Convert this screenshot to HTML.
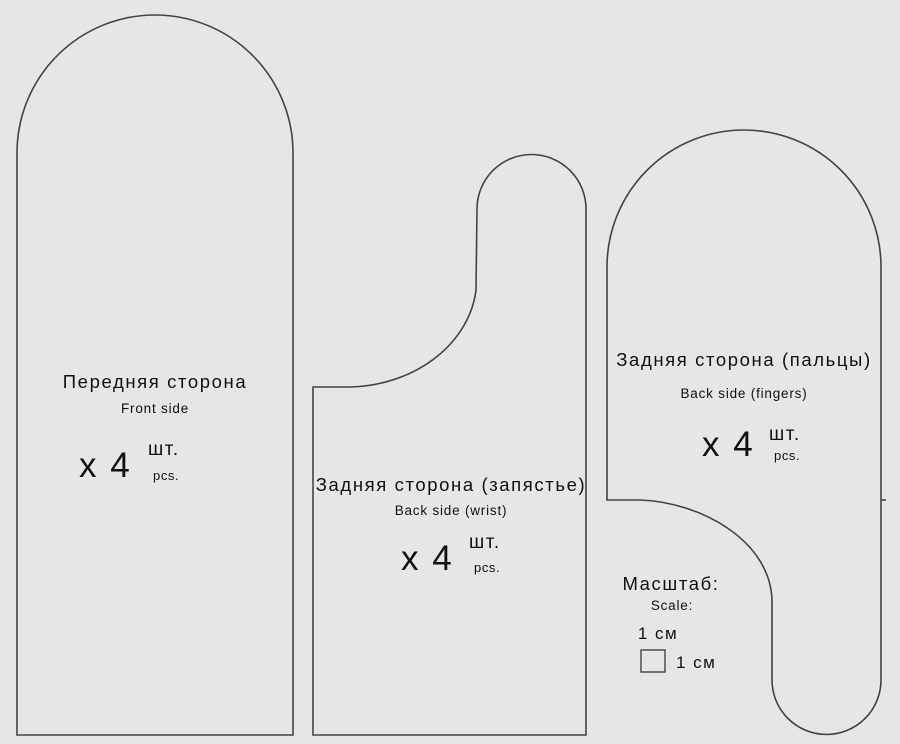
<!DOCTYPE html>
<html><head><meta charset="utf-8"><style>
html,body{margin:0;padding:0;background:#e6e6e6;}
svg{display:block;}
text{font-family:"Liberation Sans","DejaVu Sans",sans-serif;fill:#111;}
.t{font-size:18.5px;letter-spacing:1.6px;}
.s{font-size:13.5px;letter-spacing:0.8px;}
.x{font-size:35px;letter-spacing:2px;}
.u{font-size:19px;letter-spacing:1.5px;}
.p{font-size:13px;letter-spacing:0.6px;}
</style></head><body>
<svg width="900" height="744" viewBox="0 0 900 744">
<rect width="900" height="744" fill="#e6e6e6"/>
<g fill="none" stroke="#444" stroke-width="1.6">
<path d="M17,735 L17,153 A138,138 0 0 1 293,153 L293,735 Z"/>
<path d="M313,735 L313,387 L350,387 C420,385 470,340 476,290 L477,209 A54.5,54.5 0 0 1 586,209 L586,735 Z"/>
<path d="M607,500 L607,267 A137,137 0 0 1 881,267 L881,680 A54.5,54.5 0 0 1 772,680 L772,600 C770,540 700,502 640,500 Z"/>
<path d="M881,500 L886,500"/>
<rect x="641" y="650" width="24" height="22" stroke-width="1.4"/>
</g>
<g text-anchor="middle">
<text class="t" x="155" y="388">Передняя сторона</text>
<text class="s" x="155" y="413">Front side</text>
<text class="t" x="451" y="491">Задняя сторона (запястье)</text>
<text class="s" x="451" y="515">Back side (wrist)</text>
<text class="t" x="744" y="366">Задняя сторона (пальцы)</text>
<text class="s" x="744" y="398">Back side (fingers)</text>
<text class="t" x="671" y="590">Масштаб:</text>
<text class="s" x="672" y="610">Scale:</text>
<text class="u" x="658" y="639" style="font-size:17px">1 см</text>
</g>
<text class="u" x="676" y="668" style="font-size:17px">1 см</text>
<text class="x" x="79" y="477">x 4</text>
<text class="u" x="148" y="455">шт.</text>
<text class="p" x="153" y="480">pcs.</text>
<text class="x" x="401" y="570">x 4</text>
<text class="u" x="469" y="548">шт.</text>
<text class="p" x="474" y="572">pcs.</text>
<text class="x" x="702" y="456">x 4</text>
<text class="u" x="769" y="440">шт.</text>
<text class="p" x="774" y="460">pcs.</text>
</svg>
</body></html>
